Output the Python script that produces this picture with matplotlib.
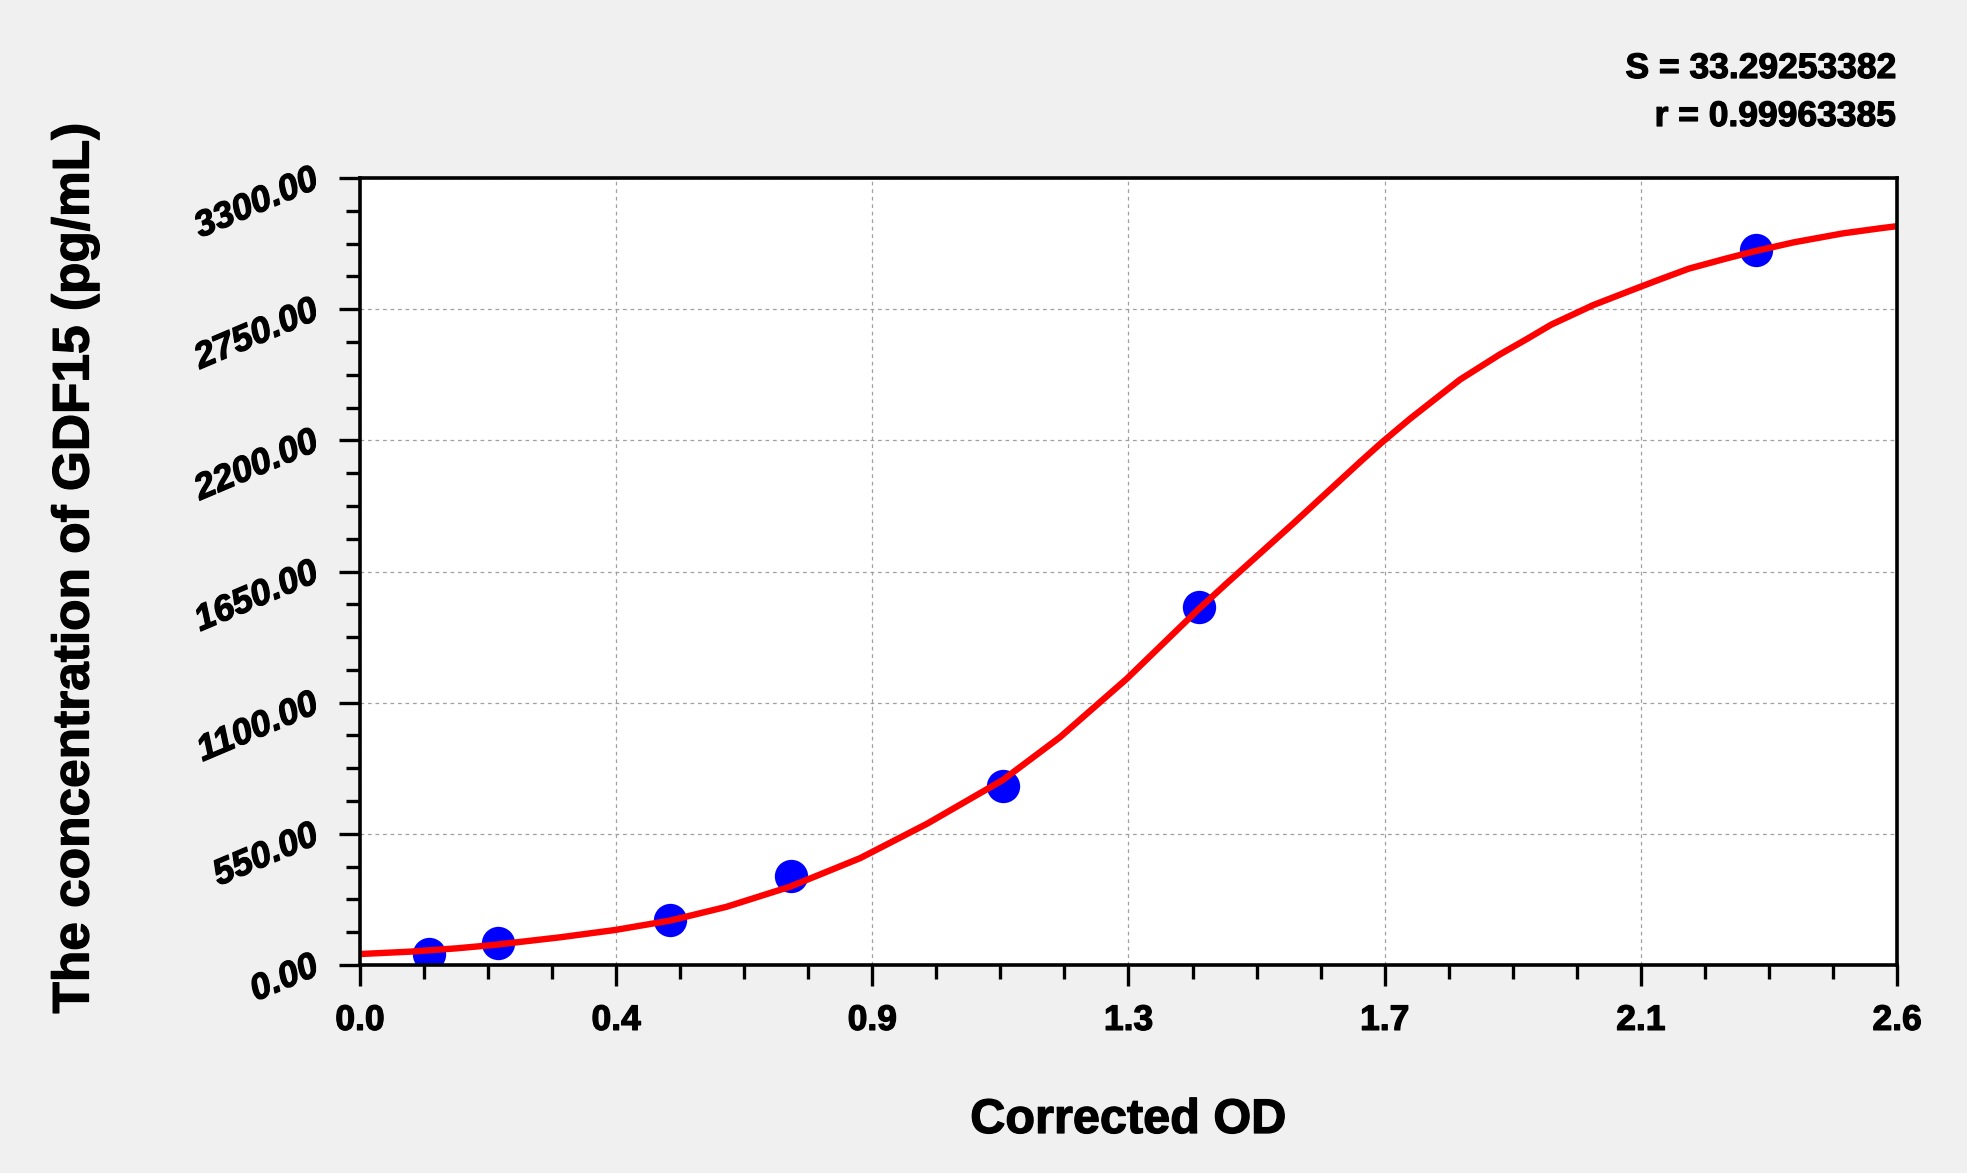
import matplotlib
matplotlib.use('Agg')
import matplotlib.pyplot as plt
import matplotlib.patheffects as pe
import numpy as np
from matplotlib.ticker import FixedLocator, MultipleLocator

# standard points (corrected OD vs concentration)
od = [0.117, 0.233, 0.525, 0.729, 1.087, 1.419, 2.361]
conc = [46.88, 93.75, 187.5, 375.0, 750.0, 1500.0, 3000.0]

# fitted curve
curve_od = [0.0, 0.085, 0.164, 0.226, 0.338, 0.432, 0.524, 0.620, 0.727, 0.846,
            0.959, 1.087, 1.184, 1.297, 1.419, 1.466, 1.579, 1.692, 1.728, 1.776,
            1.830, 1.861, 1.928, 1.974, 2.015, 2.086, 2.162, 2.199, 2.248, 2.312,
            2.361, 2.425, 2.509, 2.571, 2.6]
curve_conc = [46, 56, 70, 84, 116, 147, 186, 244, 328, 448,
              592, 775, 955, 1200, 1493, 1600, 1852, 2110, 2190, 2290,
              2395, 2455, 2560, 2625, 2685, 2767, 2840, 2875, 2920, 2963,
              2994, 3030, 3068, 3089, 3098]

xtick_labels = ['0.0', '0.4', '0.9', '1.3', '1.7', '2.1', '2.6']
s_text = 'S = 33.29253382'
r_text = 'r = 0.99963385'

plt.rcParams['font.family'] = ['Liberation Sans', 'DejaVu Sans']

bold_fx = [pe.withStroke(linewidth=0.9, foreground='black')]

fig = plt.figure(figsize=(19.67, 11.73), dpi=100, facecolor='#f0f0f0')
ax = fig.add_axes([0.18302, 0.17732, 0.78139, 0.67093])
ax.set_facecolor('white')

ax.plot(od, conc, 'o', color='#0000ff', markersize=24, markeredgewidth=0, zorder=3)
ax.plot(curve_od, curve_conc, '-', color='#ff0000', linewidth=4.6,
        solid_joinstyle='round', solid_capstyle='round', zorder=4)

ax.set_xlim(0, 2.6)
ax.set_ylim(0, 3300)

xt = np.linspace(0, 2.6, 7)
ax.xaxis.set_major_locator(FixedLocator(xt))
ax.set_xticklabels(xtick_labels)
ax.xaxis.set_minor_locator(MultipleLocator(2.6 / 24))
ax.yaxis.set_major_locator(MultipleLocator(550))
ax.yaxis.set_minor_locator(MultipleLocator(137.5))
ax.yaxis.set_major_formatter(plt.FormatStrFormatter('%.2f'))

ax.grid(True, which='major', color='#a0a0a0', linestyle=(0, (3, 3)), linewidth=0.9)
ax.set_axisbelow(True)

for sp in ax.spines.values():
    sp.set_linewidth(2.6)
    sp.set_color('black')
    sp.set_zorder(5)

ax.tick_params(axis='both', which='major', direction='out', length=15, width=2.4, color='black')
ax.tick_params(axis='both', which='minor', direction='out', length=10, width=2.4, color='black')
ax.tick_params(axis='x', which='major', pad=13, labelsize=25.5)
ax.tick_params(axis='y', which='major', pad=16, labelsize=26)

for lb in ax.get_xticklabels():
    lb.set_fontweight('bold')
    lb.set_path_effects(bold_fx)
for lb in ax.get_yticklabels():
    lb.set_fontweight('bold')
    lb.set_fontstyle('italic')
    lb.set_rotation(23)
    lb.set_rotation_mode('anchor')
    lb.set_ha('right')
    lb.set_va('center')
    lb.set_path_effects(bold_fx)

fig.text(1128 / 1967, 1 - 1133 / 1173, 'Corrected OD', ha='center', va='baseline',
         fontsize=35, fontweight='bold', path_effects=bold_fx)
fig.text(75 / 1967, 0.5155, 'The concentration of GDF15 (pg/mL)', ha='center', va='center',
         rotation=90, fontsize=37, fontweight='bold', path_effects=bold_fx)

fig.text(1896 / 1967, 1 - 78 / 1173, s_text, ha='right', va='baseline',
         fontsize=25.5, fontweight='bold', path_effects=bold_fx)
fig.text(1896 / 1967, 1 - 126 / 1173, r_text, ha='right', va='baseline',
         fontsize=25.5, fontweight='bold', path_effects=bold_fx)

fig.savefig('out.png', dpi=100, facecolor=fig.get_facecolor())
